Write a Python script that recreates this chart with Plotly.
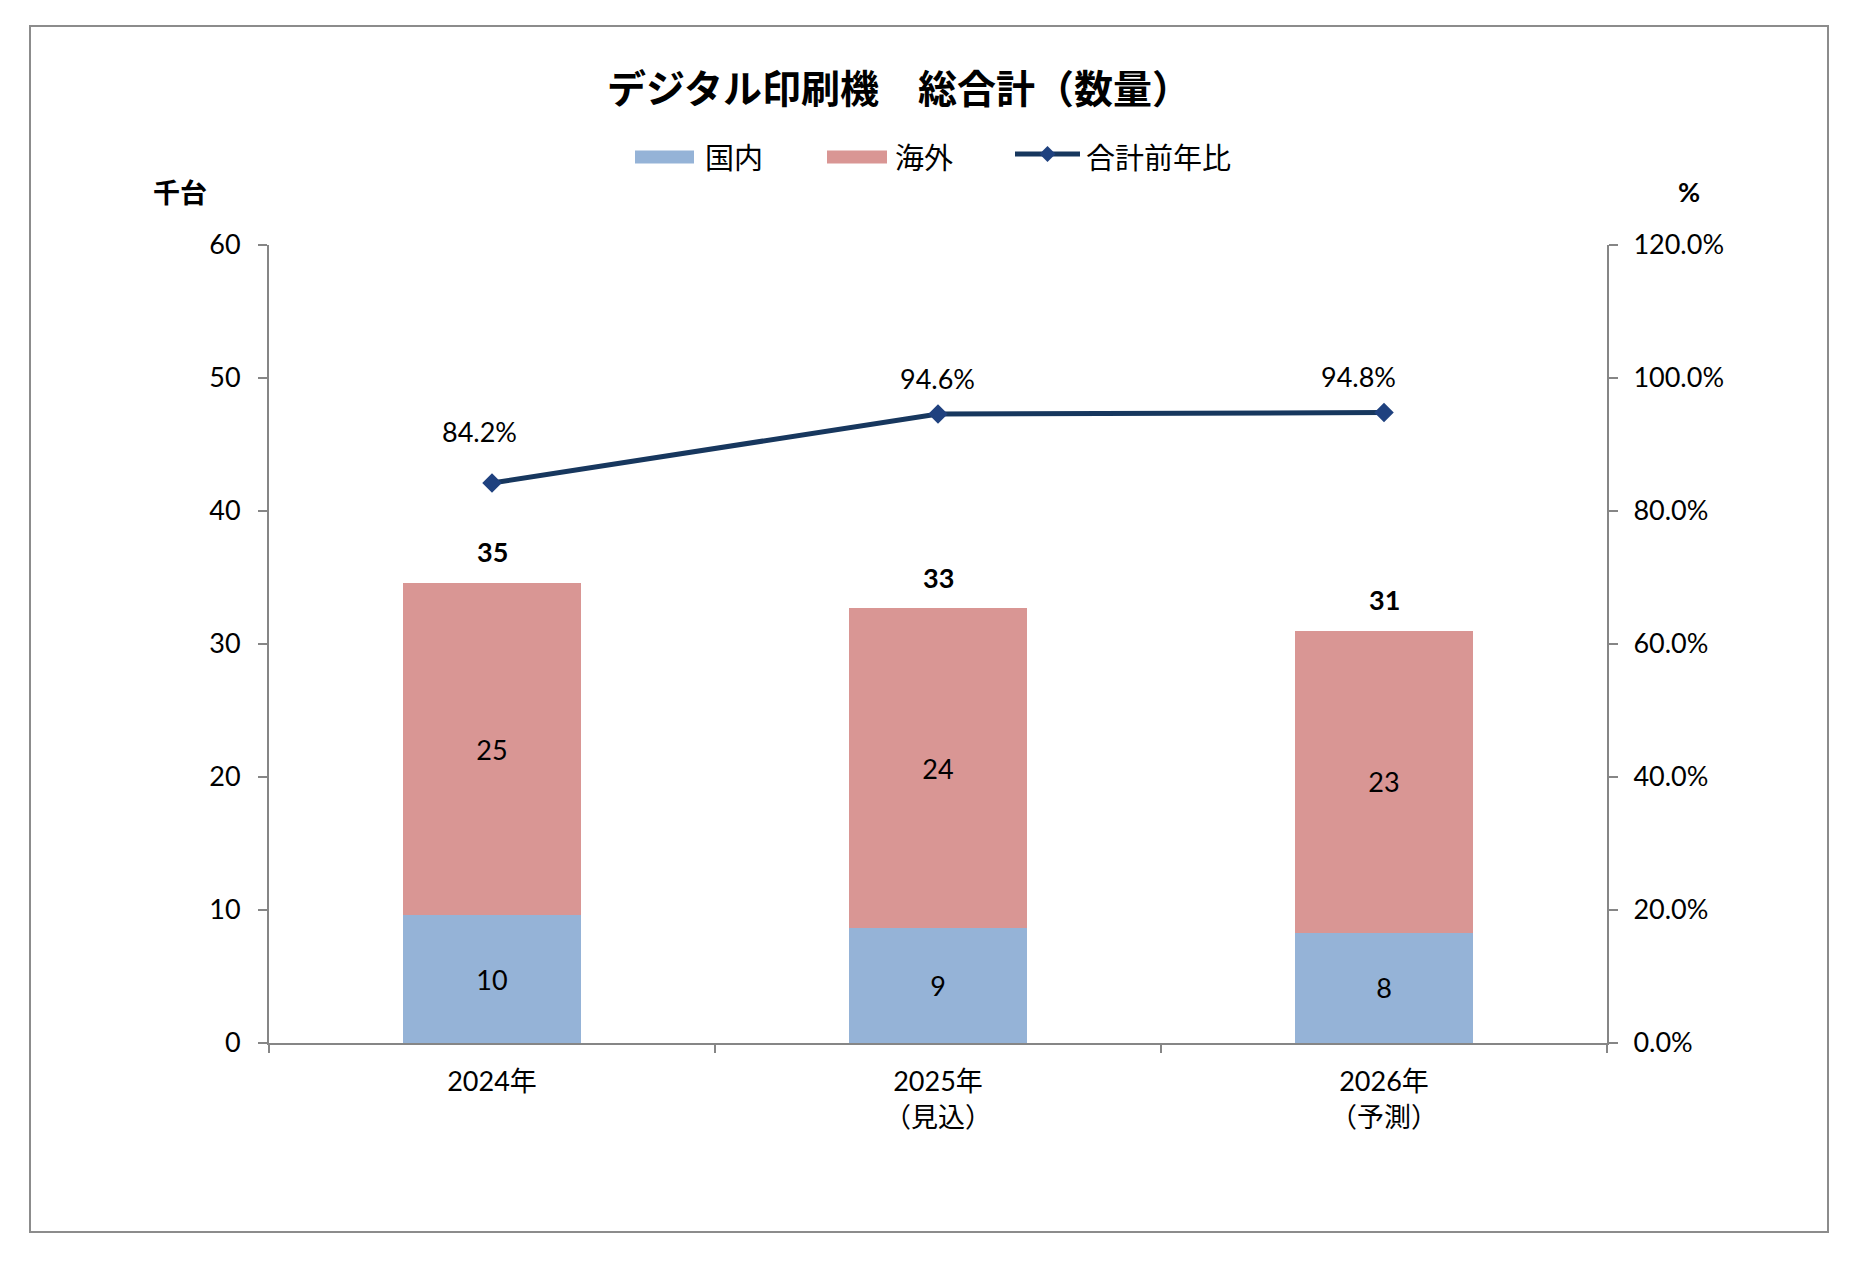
import plotly.graph_objects as go

categories = ["2024年", "2025年<br>（見込）", "2026年<br>（予測）"]
domestic = [9.6, 8.65, 8.3]      # 国内 (千台)
overseas = [25.0, 24.05, 22.7]   # 海外 (千台)
yoy_ratio = [0.842, 0.946, 0.948]  # 合計前年比

totals = [d + o for d, o in zip(domestic, overseas)]

FONT = "Lato, 'Noto Sans CJK JP', sans-serif"
JFONT = "'Noto Sans CJK JP', sans-serif"
C_DOM = "#95B3D7"
C_OVS = "#D99694"
C_LINE = "#17375E"
C_MARK = "#1F417F"
AXIS_C = "#868686"

OFF = 8  # page body margin
W, H = 1858 - OFF, 1267 - OFF
L, R, T, B = 269 - OFF, 251, 245 - OFF, 224
PW, PH = W - L - R, H - T - B


def px(x):
    return (x - OFF - L) / PW


def py(y):
    return (H - B - (y - OFF)) / PH


fig = go.Figure()
fig.add_trace(go.Bar(
    x=categories, y=domestic, name="国内", marker=dict(color=C_DOM, line=dict(width=0)),
    texttemplate="%{y:.0f}", textposition="inside", insidetextanchor="middle",
    textangle=0, textfont=dict(family=FONT, size=27, color="#000000"),
    showlegend=False,
))
fig.add_trace(go.Bar(
    x=categories, y=overseas, name="海外", marker=dict(color=C_OVS, line=dict(width=0)),
    texttemplate="%{y:.0f}", textposition="inside", insidetextanchor="middle",
    textangle=0, textfont=dict(family=FONT, size=27, color="#000000"),
    showlegend=False,
))
fig.add_trace(go.Scatter(
    x=categories, y=yoy_ratio, name="合計前年比", yaxis="y2", mode="lines+markers",
    line=dict(color=C_LINE, width=5),
    marker=dict(symbol="diamond", size=15, color=C_MARK, line=dict(width=0)),
    showlegend=False,
))

annotations = []
# totals above bars
for c, t in zip(categories, totals):
    annotations.append(dict(
        x=c, y=t, xref="x", yref="y", text="<b>%d</b>" % round(t), showarrow=False,
        yanchor="middle", yshift=31, font=dict(family=FONT, size=27, color="#000000"),
    ))
# line labels
line_shifts = [(-13, 52), (-1, 35), (-26, 36)]
for c, v, (dx, dy) in zip(categories, yoy_ratio, line_shifts):
    annotations.append(dict(
        x=c, y=v, xref="x", yref="y2", text="%.1f%%" % (v * 100), showarrow=False,
        yanchor="middle", xshift=dx, yshift=dy, font=dict(family=FONT, size=27, color="#000000"),
    ))
# axis titles
annotations.append(dict(x=px(180), y=py(192), xref="paper", yref="paper", text="<b>千台</b>",
                        showarrow=False, xanchor="center", yanchor="middle",
                        font=dict(family=JFONT, size=27, color="#000000")))
annotations.append(dict(x=px(1689), y=py(192), xref="paper", yref="paper", text="<b>%</b>",
                        showarrow=False, xanchor="center", yanchor="middle",
                        font=dict(family=FONT, size=27, color="#000000")))

# custom legend
shapes = []
leg_y = 157
legend_items = [
    ("bar", C_DOM, 635, 694, "国内", 703),
    ("bar", C_OVS, 827, 887, "海外", 893),
    ("line", C_LINE, 1015, 1080, "合計前年比", 1084),
]
for kind, col, x0, x1, label, tx in legend_items:
    if kind == "bar":
        shapes.append(dict(type="rect", xref="paper", yref="paper",
                           x0=px(x0), x1=px(x1), y0=py(leg_y - 6.5), y1=py(leg_y + 6.5),
                           fillcolor=col, line=dict(width=0)))
    else:
        shapes.append(dict(type="line", xref="paper", yref="paper",
                           x0=px(x0), x1=px(x1), y0=py(leg_y - 3), y1=py(leg_y - 3),
                           line=dict(color=col, width=5)))
        cx = (x0 + x1) / 2
        cy = leg_y - 3
        s = 8
        shapes.append(dict(type="path", xref="paper", yref="paper",
                           path="M %f %f L %f %f L %f %f L %f %f Z" % (
                               px(cx - s), py(cy), px(cx), py(cy - s), px(cx + s), py(cy), px(cx), py(cy + s)),
                           fillcolor=C_MARK, line=dict(width=0)))
    annotations.append(dict(x=px(tx), y=py(leg_y - 1), xref="paper", yref="paper", text=label,
                            showarrow=False, xanchor="left", yanchor="middle",
                            font=dict(family=JFONT, size=29, color="#000000")))

# chart frame
shapes.append(dict(type="rect", xref="paper", yref="paper",
                   x0=px(30), x1=px(1828), y0=py(1232), y1=py(26),
                   line=dict(color="#8C8C8C", width=2), fillcolor="rgba(0,0,0,0)", layer="below"))

fig.update_layout(
    width=W, height=H,
    margin=dict(l=L, r=R, t=T, b=B),
    paper_bgcolor="white", plot_bgcolor="white",
    barmode="stack", bargap=0.6,
    font=dict(family=FONT, size=27, color="#000000"),
    title=dict(text="<b>デジタル印刷機\u3000総合計（数量）</b>", x=(899 - OFF) / W, xref="container",
               xanchor="center", y=1 - (89 - OFF) / H, yref="container", yanchor="middle",
               font=dict(family=JFONT, size=39, color="#000000")),
    xaxis=dict(type="category", showline=True, linecolor=AXIS_C, linewidth=2,
               ticks="outside", tickson="boundaries", ticklen=8, tickcolor=AXIS_C, tickwidth=2,
               showgrid=False, ticklabelstandoff=14,
               tickfont=dict(family=FONT, size=27, color="#000000")),
    yaxis=dict(range=[0, 60], dtick=10, showline=True, linecolor=AXIS_C, linewidth=2,
               ticks="outside", ticklen=9, tickcolor=AXIS_C, tickwidth=2, showgrid=False,
               zeroline=False, ticklabelstandoff=12,
               tickfont=dict(family=FONT, size=27, color="#000000")),
    yaxis2=dict(range=[0, 1.2], dtick=0.2, tickformat=".1%", overlaying="y", side="right",
                showline=True, linecolor=AXIS_C, linewidth=2, ticks="outside", ticklen=9,
                tickcolor=AXIS_C, tickwidth=2, showgrid=False, zeroline=False,
                ticklabelstandoff=10,
                tickfont=dict(family=FONT, size=27, color="#000000")),
    annotations=annotations,
    shapes=shapes,
    showlegend=False,
)

fig.write_html("out.html")
